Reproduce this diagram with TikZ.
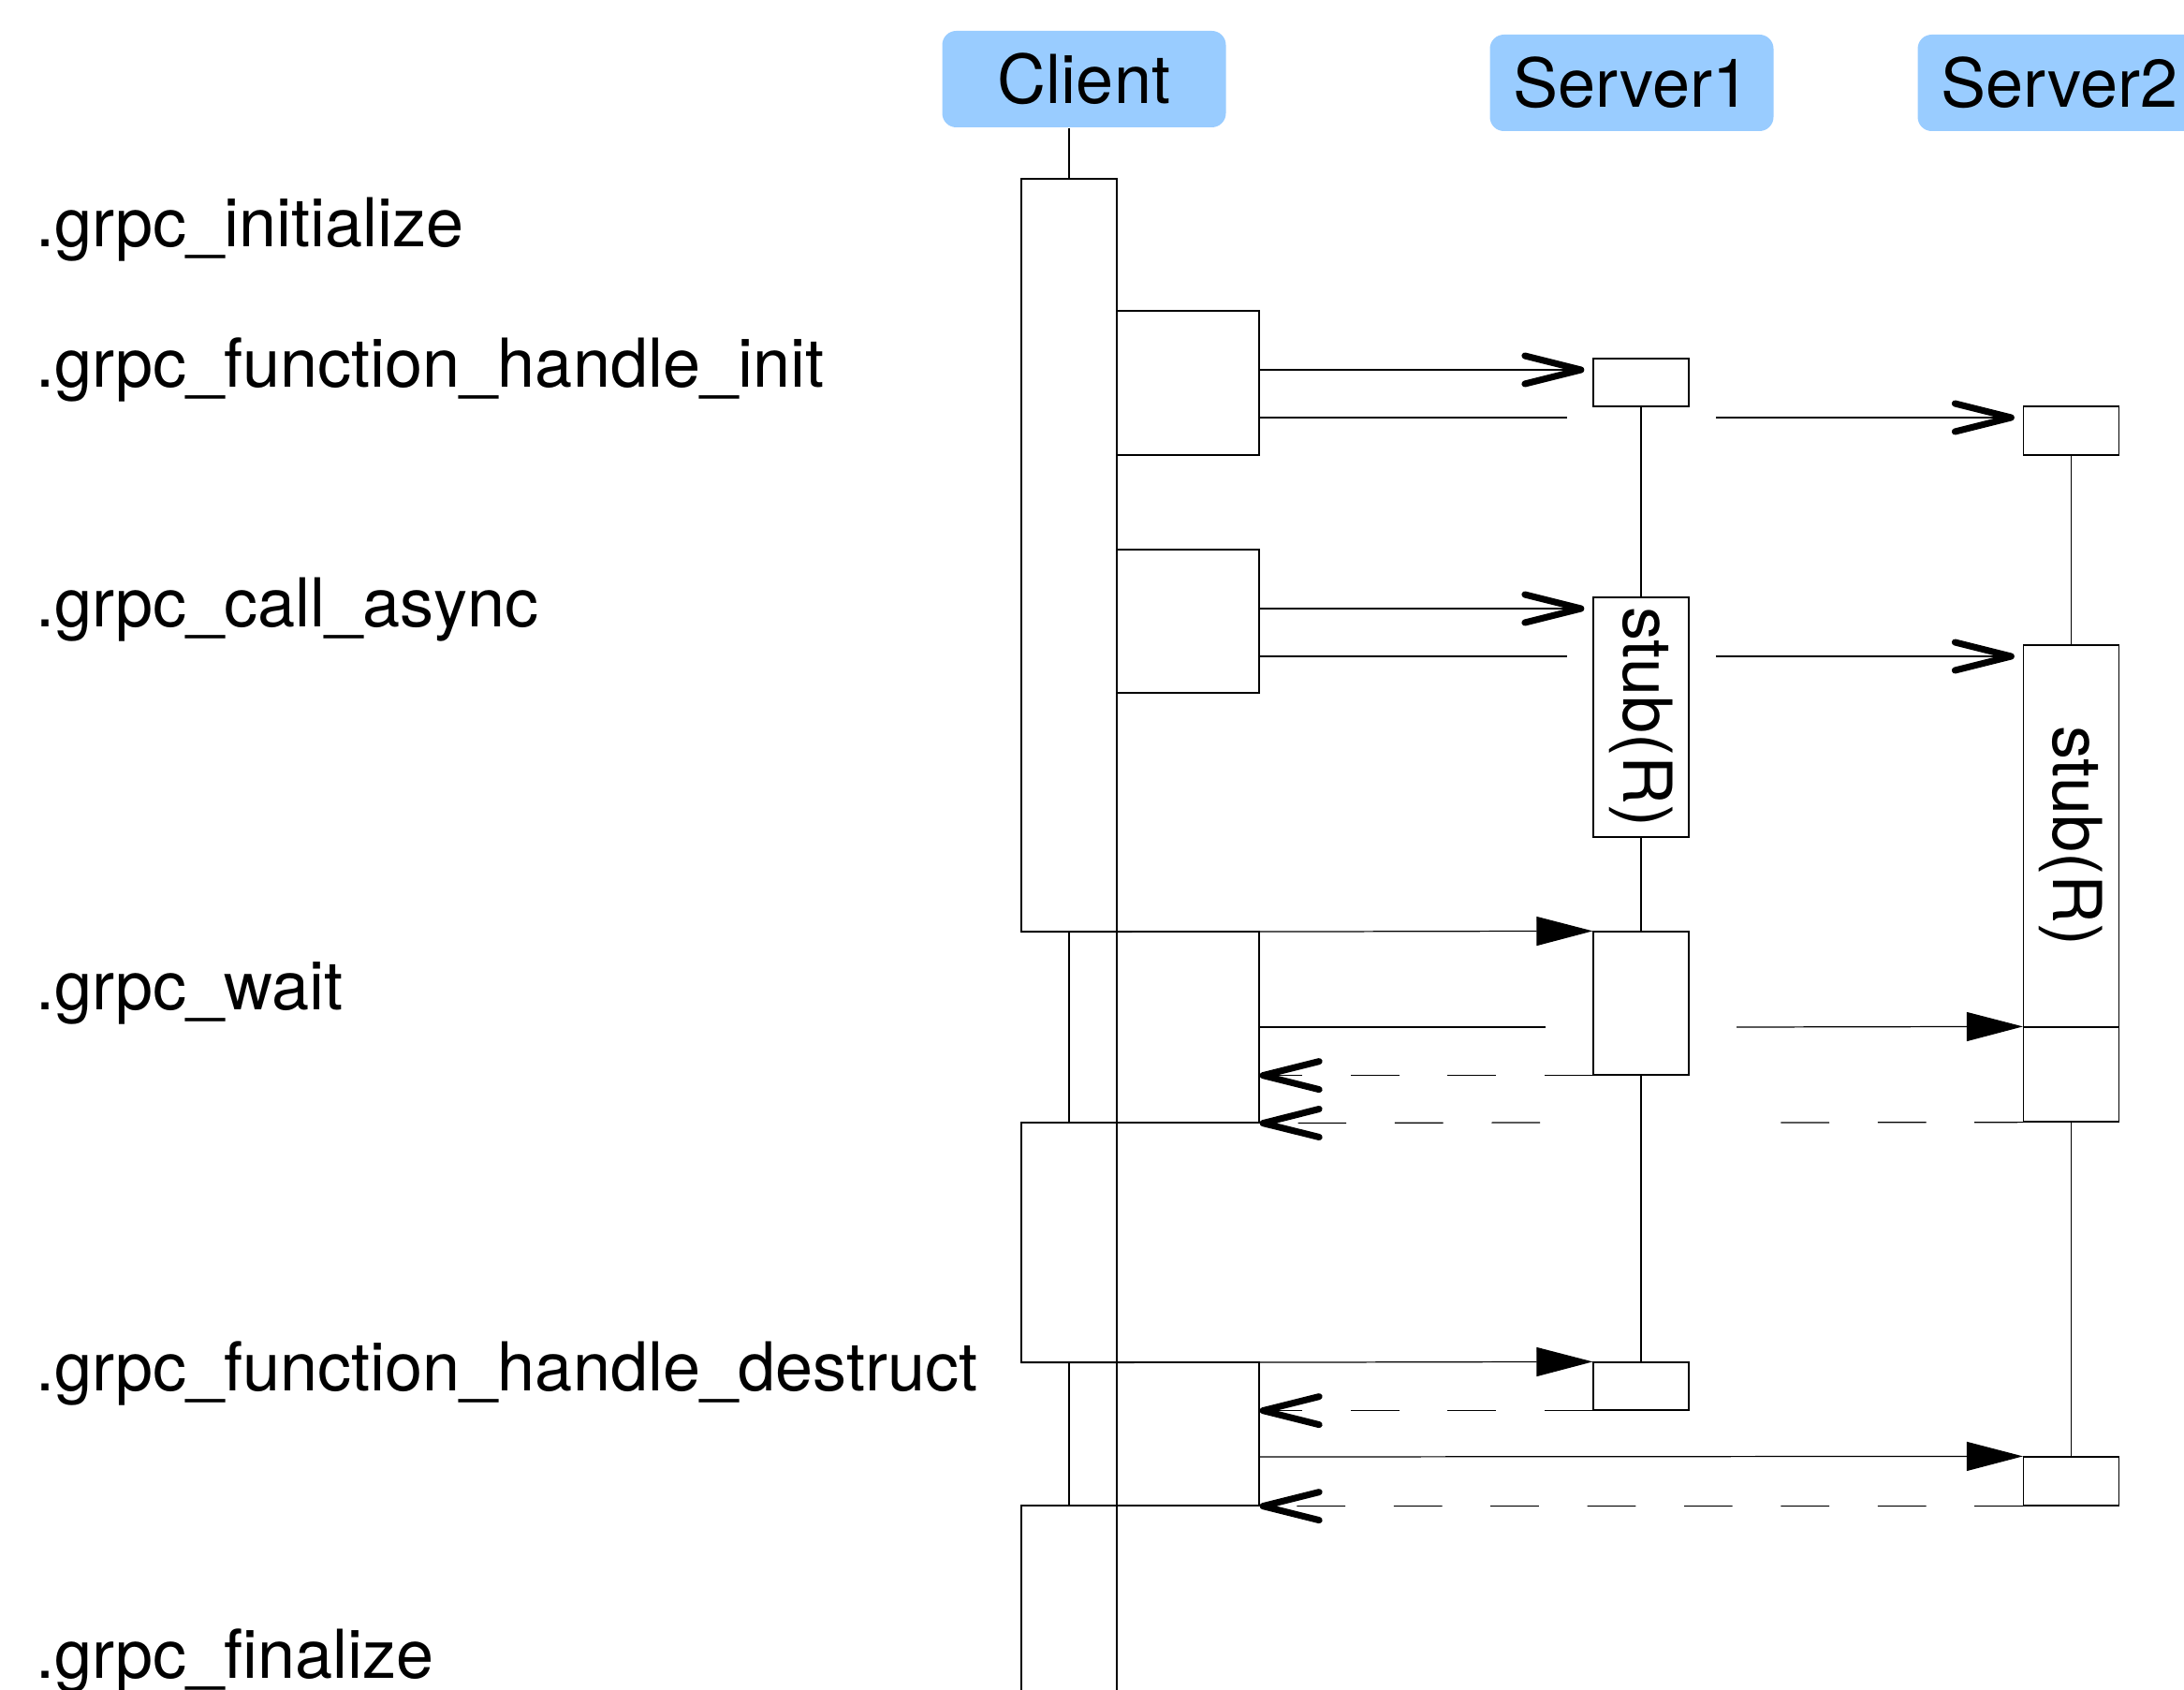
\documentclass[tikz,border=0pt]{standalone}
\usepackage{fontspec}
\setmainfont{TeX Gyre Heros}
\usetikzlibrary{arrows.meta}
\definecolor{actorblue}{HTML}{99CCFF}
\begin{document}
\begin{tikzpicture}[x=1mm,y=-1mm,line width=0.35pt,
                    font=\fontsize{20.5pt}{24pt}\selectfont,
                    actor/.style={rectangle,rounded corners=1.5mm,fill=actorblue,inner sep=0pt,minimum width=30.3mm,minimum height=10.3mm},
                    act/.style={rectangle,draw,inner sep=0pt,minimum width=10.2mm},
                    nest/.style={rectangle,draw,inner sep=0pt,minimum width=15.2mm},
                    fn/.style={anchor=base west,inner sep=0pt},
                    stub/.style={rotate=-90,inner sep=0pt},
                    call/.style={-{Straight Barb[length=6mm,width=3mm,line width'=2pt,round]},shorten >=0.9mm},
                    sync/.style={-{Triangle[length=6mm,width=3.1mm]}},
                    dashline/.style={dash pattern=on 5.17mm off 5.17mm},
                    reply/.style={dashline,-{Straight Barb[length=6mm,width=3mm,line width'=2pt,round]}}
                   ]
  \useasboundingbox (0,0) rectangle (233.3,180.5);
  % function names
  \node[fn] (finit) at (3.8,26.3) {.grpc\_initialize};
  \node[fn] (fhinit) at (3.8,41.3) {.grpc\_function\_handle\_init};
  \node[fn] (fcall) at (3.8,66.9) {.grpc\_call\_async};
  \node[fn] (fwait) at (3.8,107.8) {.grpc\_wait};
  \node[fn] (fhdes) at (3.8,148.5) {.grpc\_function\_handle\_destruct};
  \node[fn] (ffin) at (3.8,179.2) {.grpc\_finalize};
  % actors
  \node[actor] (client) at (115.8,8.45) {Client};
  \node[actor] (server1) at (174.3,8.85) {Server1};
  \node[actor] (server2) at (220.0,8.85) {Server2};
  % client activations
  \node[act,minimum height=80.4mm] (ca1) at (114.2,59.3) {};
  \node[act,minimum height=25.6mm] (ca2) at (114.2,132.7) {};
  \node[act,minimum height=30mm] (ca3) at (114.2,175.8) {};
  \node[nest,minimum height=15.4mm] (n1) at (126.9,40.9) {};
  \node[nest,minimum height=15.3mm] (n2) at (126.9,66.35) {};
  \node[nest,minimum height=20.4mm] (n3) at (126.9,109.7) {};
  \node[nest,minimum height=15.3mm] (n4) at (126.9,153.15) {};
  % server1 activations
  \node[act,minimum height=5.1mm] (s1a) at (175.3,40.85) {};
  \node[act,minimum height=25.6mm,label={[stub]center:stub(R)}] (s1b) at (175.3,76.6) {};
  \node[act,minimum height=15.3mm] (s1c) at (175.3,107.15) {};
  \node[act,minimum height=5.1mm] (s1d) at (175.3,148.05) {};
  % server2 activations
  \node[act,minimum height=5.2mm] (s2a) at (221.25,46.0) {};
  \node[act,minimum height=40.8mm,label={[stub]center:stub(R)}] (s2b) at (221.25,89.3) {};
  \node[act,minimum height=10.1mm] (s2c) at (221.25,114.75) {};
  \node[act,minimum height=5.2mm] (s2d) at (221.25,158.2) {};
  % lifelines
  \path (client.south -| ca1.north) edge (ca1.north)
    (ca1) edge (ca2)
    (ca2) edge (ca3)
    (s1a) edge (s1b)
    (s1b) edge (s1c)
    (s1c) edge (s1d)
    (s2a) edge (s2b)
    (s2c) edge (s2d);
  % message rows and gaps
  \coordinate (m1) at (0,39.5);
  \coordinate (m2) at (0,44.6);
  \coordinate (m3) at (0,65.0);
  \coordinate (m4) at (0,70.1);
  \coordinate (m11) at (0,155.6);
  \coordinate (g2a) at (167.4,44.6);
  \coordinate (g2b) at (183.3,44.6);
  \coordinate (g4a) at (167.4,70.1);
  \coordinate (g4b) at (183.3,70.1);
  \coordinate (g6a) at (165.1,109.7);
  \coordinate (g6b) at (185.5,109.7);
  \coordinate (g8a) at (190.2,119.9);
  \coordinate (g8b) at (164.5,119.9);
  % messages
  \path (n1.east |- m1) edge[call] (s1a.west |- m1)
    (n1.east |- m2) edge (g2a)
    (g2b) edge[call] (s2a.west |- m2)
    (n2.east |- m3) edge[call] (s1b.west |- m3)
    (n2.east |- m4) edge (g4a)
    (g4b) edge[call] (s2b.west |- m4)
    (ca1.south west) edge[sync] (s1c.north west)
    (n3.east) edge (g6a)
    (g6b) edge[sync] (s2c.north west)
    (s1c.south west) edge[reply] (n3.east |- s1c.south west)
    (s2c.south west) edge[dashline] (g8a)
    (g8b) edge[reply] (n3.south east)
    (ca2.south west) edge[sync] (s1d.north west)
    (s1d.south west) edge[reply] (n4.east |- s1d.south west)
    (n4.east |- m11) edge[sync] (s2d.north west)
    (s2d.south west) edge[reply] (n4.south east);
\end{tikzpicture}
\end{document}
